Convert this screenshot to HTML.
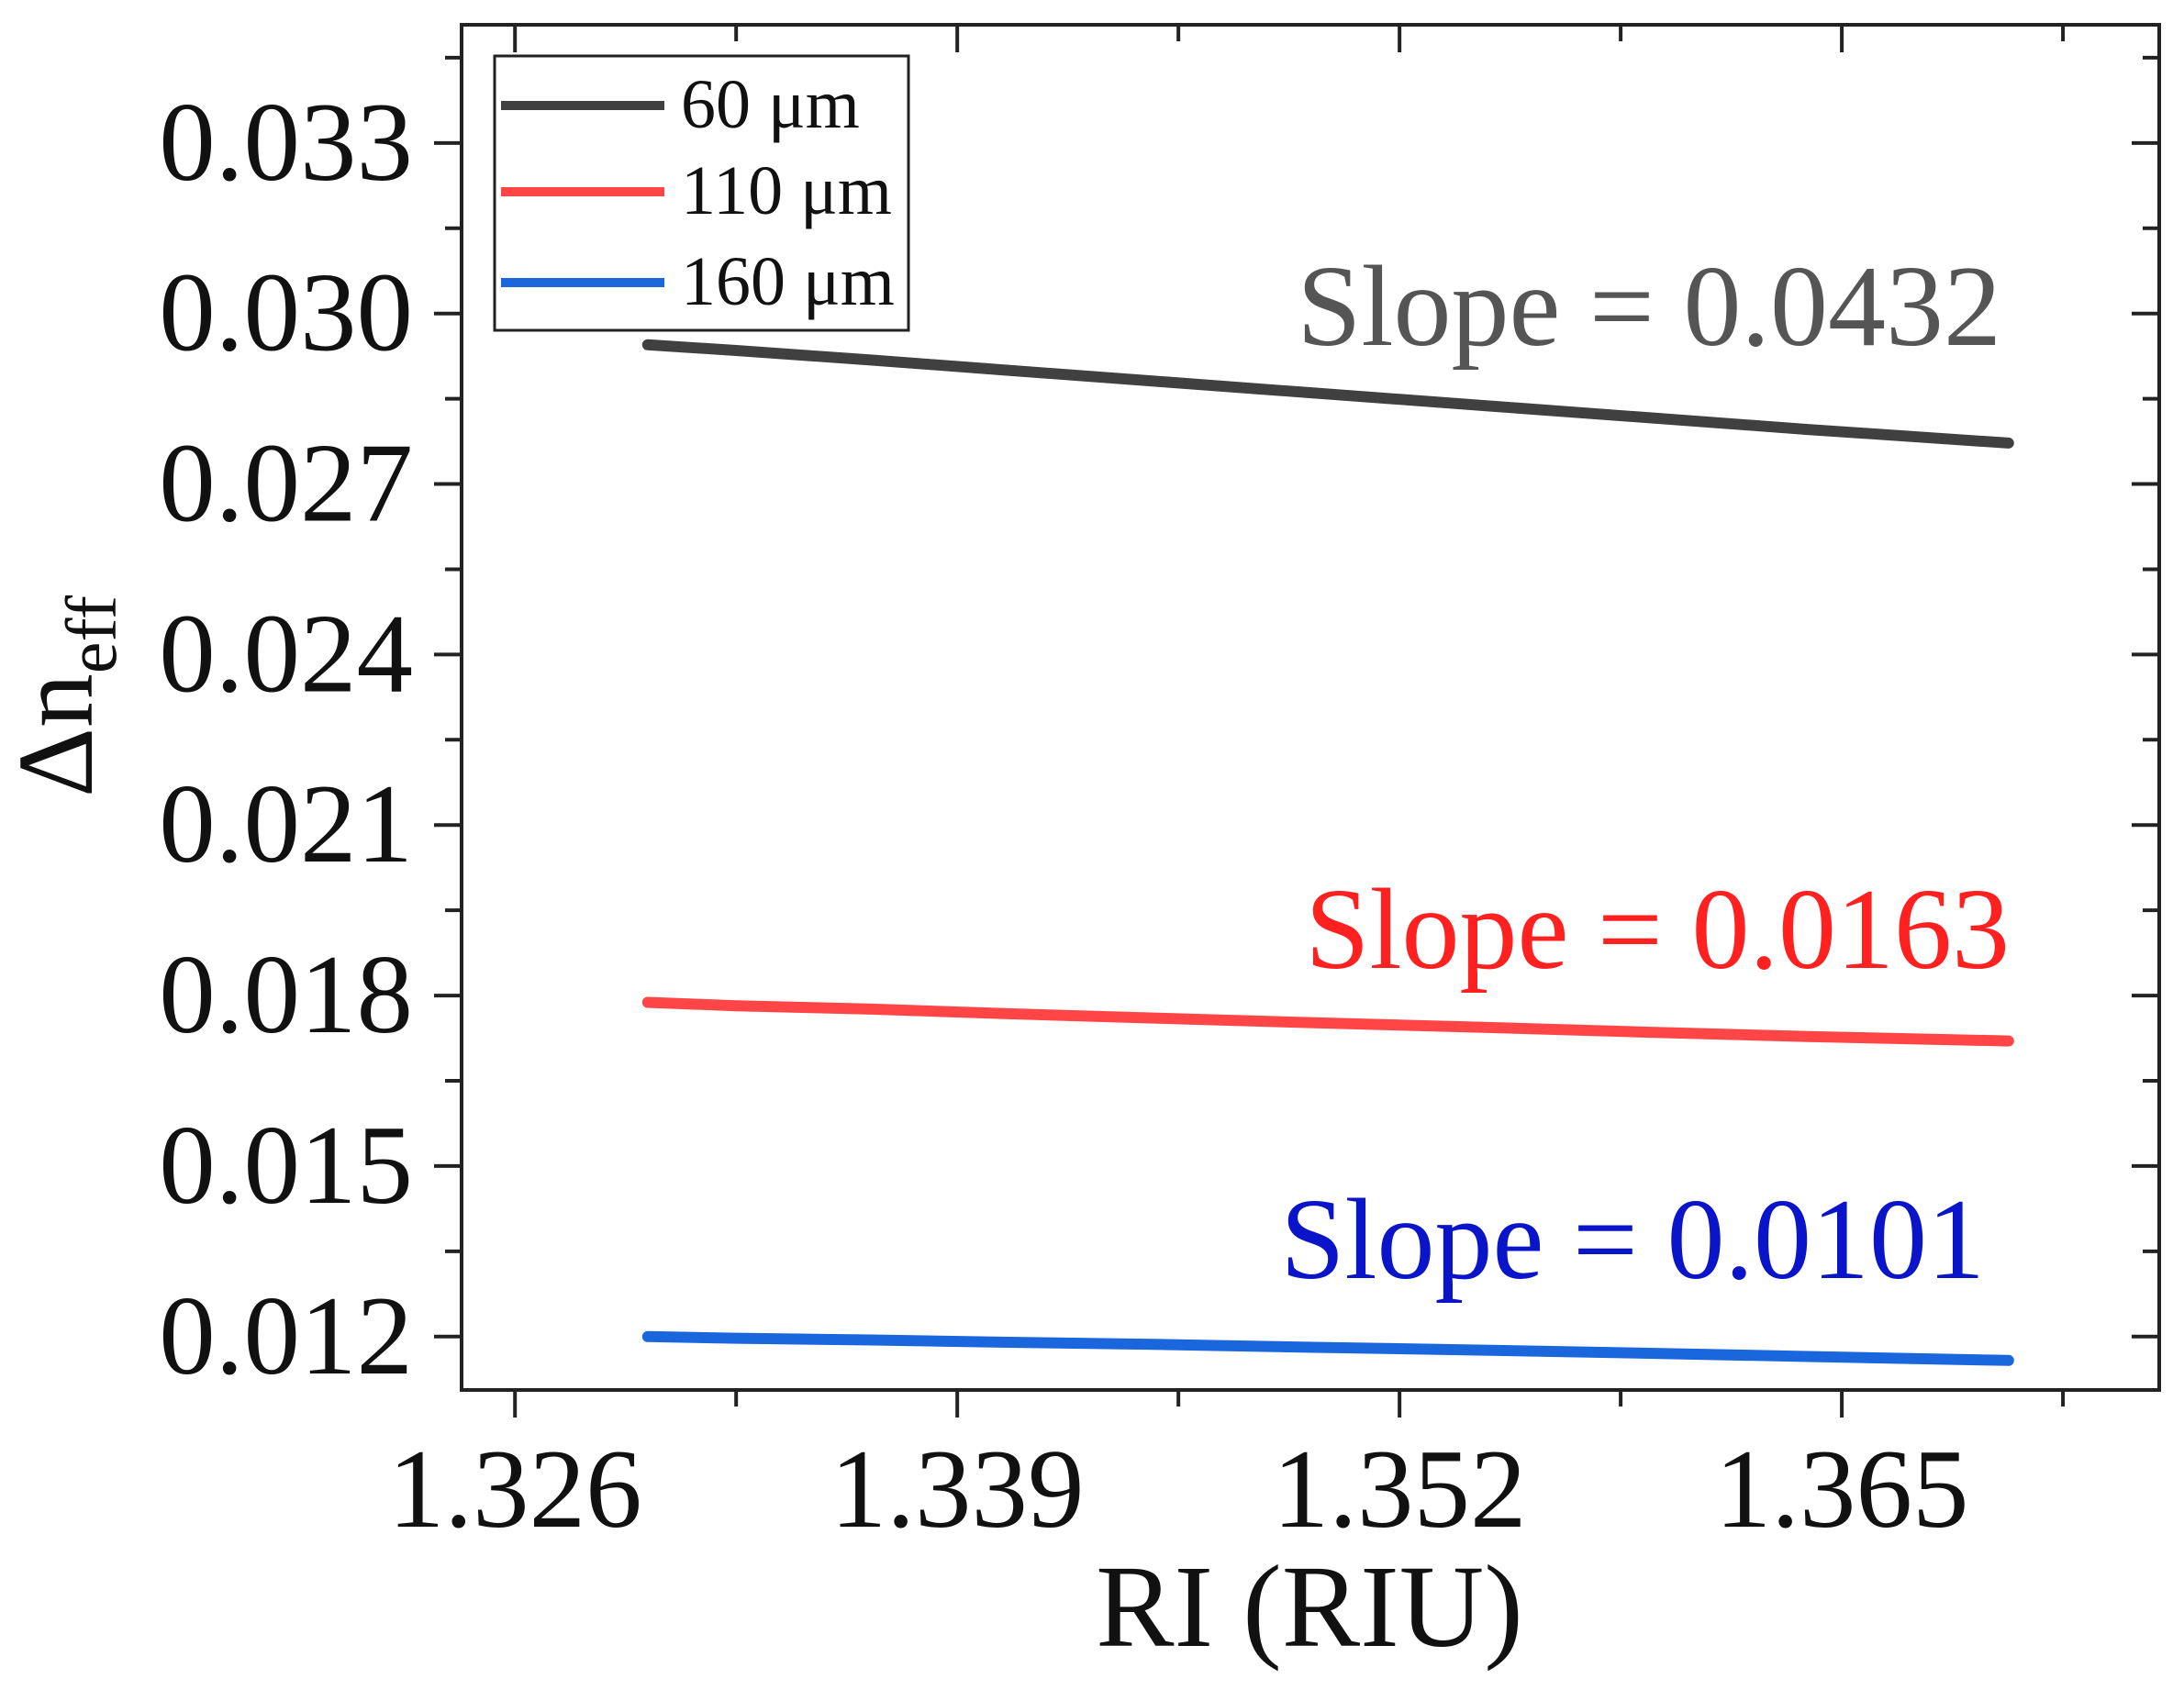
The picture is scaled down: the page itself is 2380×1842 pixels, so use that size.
<!DOCTYPE html>
<html><head><meta charset="utf-8"><style>
html,body{margin:0;padding:0;background:#fff;}
svg{display:block;font-family:"Liberation Serif",serif;}
</style></head><body>
<svg id="chart" width="2380" height="1842" viewBox="0 0 2380 1842">
<g id="axes"></g>
<g id="series"></g>
<g id="labels"></g>
</svg>
<script>
const xTicks = [1.326, 1.339, 1.352, 1.365];
const xTickLabels = ["1.326", "1.339", "1.352", "1.365"];
const yTicks = [0.012, 0.015, 0.018, 0.021, 0.024, 0.027, 0.030, 0.033];
const yTickLabels = ["0.012", "0.015", "0.018", "0.021", "0.024", "0.027", "0.030", "0.033"];
const riValues = [1.3299, 1.3325, 1.3365, 1.3405, 1.3450, 1.3495, 1.3545, 1.3590, 1.3640, 1.3699];
const series60 = [0.02945, 0.02935, 0.02918, 0.02900, 0.02880, 0.02860, 0.02838, 0.02818, 0.02796, 0.02772];
const series110 = [0.01788, 0.01782, 0.01776, 0.01768, 0.01760, 0.01752, 0.01744, 0.01736, 0.01728, 0.01720];
const series160 = [0.01200, 0.01197, 0.01194, 0.01190, 0.01186, 0.01181, 0.01176, 0.01171, 0.01165, 0.01158];
const seriesNames = ["60 μm", "110 μm", "160 μm"];
const slopeLabels = ["Slope = 0.0432", "Slope = 0.0163", "Slope = 0.0101"];

const NS = "http://www.w3.org/2000/svg";
const L = 503, R = 2353, T = 27, B = 1515;
const xMin = 1.32443, xMax = 1.37433, yMin = 0.01106, yMax = 0.03508;
function xs(v){ return L + (v - xMin) / (xMax - xMin) * (R - L); }
function ys(v){ return B - (v - yMin) / (yMax - yMin) * (B - T); }
function mk(tag, attrs, parent){ const e = document.createElementNS(NS, tag); for (const k in attrs) e.setAttribute(k, attrs[k]); parent.appendChild(e); return e; }

const axes = document.getElementById('axes');
const frame = mk('rect', {x:L, y:T, width:R-L, height:B-T, fill:'none', stroke:'#222', 'stroke-width':4}, axes);



const step = 0.0065;
for (let i = 0; i < 12; i++) {
  const v = 1.3195 + i * step;
  const x = xs(v);
  if (x < L + 2 || x > R - 2) continue;
  const major = xTicks.some(t => Math.abs(t - v) < 1e-6);
  const len = major ? 30 : 18;
  const t1 = mk('line', {x1:x, x2:x, y1:B, y2:B+len, stroke:'#222', 'stroke-width':4}, axes);
  
  
  const t2 = mk('line', {x1:x, x2:x, y1:T, y2:T+len, stroke:'#222', 'stroke-width':4}, axes);
  
  
}
for (let i = 0; i < 20; i++) {
  const v = 0.0105 + i * 0.0015;
  const y = ys(v);
  if (y < T + 2 || y > B - 2) continue;
  const major = yTicks.some(t => Math.abs(t - v) < 1e-7);
  const len = major ? 30 : 18;
  const t1 = mk('line', {x1:L-len, x2:L, y1:y, y2:y, stroke:'#222', 'stroke-width':4}, axes);
  
  
  const t2 = mk('line', {x1:R-len, x2:R, y1:y, y2:y, stroke:'#222', 'stroke-width':4}, axes);
  
  
}

const labels = document.getElementById('labels');
xTicks.forEach((v, i) => {
  const t = mk('text', {x:xs(v), y:1664, 'font-size':123, 'text-anchor':'middle', fill:'#111'}, labels);
  t.textContent = xTickLabels[i];
  
  
});
yTicks.forEach((v, i) => {
  const t = mk('text', {x:450, y:ys(v)+40, 'font-size':123, 'text-anchor':'end', fill:'#111'}, labels);
  t.textContent = yTickLabels[i];
  
  
});
const xt = mk('text', {x:1427, y:1794, 'font-size':128, 'text-anchor':'middle', fill:'#111'}, labels);
xt.textContent = 'RI (RIU)';


const yt = mk('text', {x:0, y:0, 'font-size':118, 'text-anchor':'middle', fill:'#111', transform:'translate(100,759) rotate(-90)'}, labels);
yt.innerHTML = 'Δn<tspan font-size="78" dy="26">eff</tspan>';



const colors = ['#404040', '#ff4545', '#1a66dd'];
const slopeColors = ['#555555', '#ff2020', '#0a14c8'];
const allSeries = [series60, series110, series160];
const slopePos = [[2181, 376], [2190, 1055], [2163, 1393]];
const sg = document.getElementById('series');
allSeries.forEach((s, k) => {
  const pts = s.map((v, i) => xs(riValues[i]).toFixed(1) + ',' + ys(v).toFixed(1)).join(' ');
  const pl = mk('polyline', {points:pts, fill:'none', stroke:colors[k], 'stroke-width':12, 'stroke-linecap':'round'}, sg);
  
  
  const st = mk('text', {x:slopePos[k][0], y:slopePos[k][1], 'font-size':126, 'text-anchor':'end', fill:slopeColors[k]}, labels);
  st.textContent = slopeLabels[k];
  
  
});

const lg = mk('g', {}, labels);


const box = mk('rect', {x:539, y:61, width:451, height:299, fill:'#fff', stroke:'#222', 'stroke-width':3}, lg);


const ly = [115, 209, 308];
seriesNames.forEach((n, k) => {
  const ln = mk('line', {x1:546, x2:724, y1:ly[k], y2:ly[k], stroke:colors[k], 'stroke-width':10}, lg);
  
  
  const tx = mk('text', {x:742, y:ly[k]+24, 'font-size':76, fill:'#111'}, lg);
  tx.textContent = n;
  
  
});
</script>
</body></html>
